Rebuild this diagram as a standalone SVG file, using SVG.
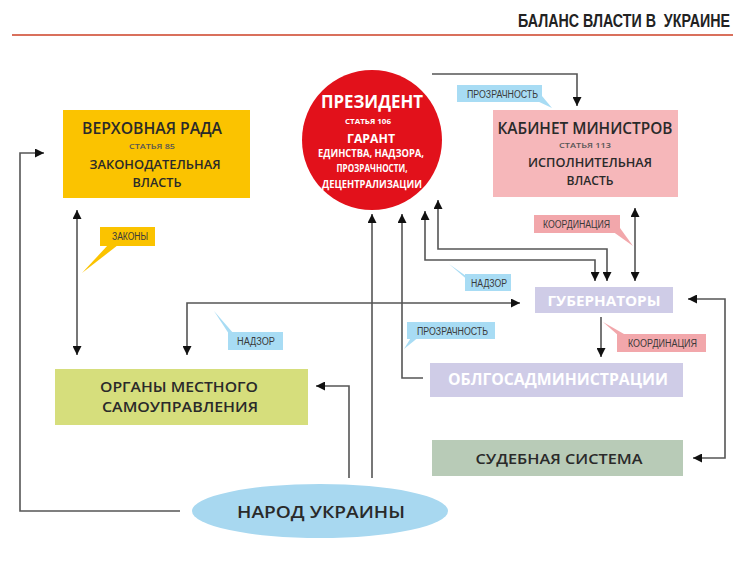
<svg xmlns="http://www.w3.org/2000/svg" width="750" height="564" viewBox="0 0 750 564">
<defs>
<marker id="ah" viewBox="0 0 10 10" refX="10" refY="5" markerWidth="9" markerHeight="9" markerUnits="userSpaceOnUse" orient="auto-start-reverse">
<path d="M0,0 L10,5 L0,10 z" fill="#111"/>
</marker>
<style>
.bg{fill:#ffffff}
.conn{fill:none;stroke:#555;stroke-width:1.6}
.tit{font-family:"Open Sans","Liberation Sans",sans-serif;font-weight:600;fill:#2a2a2a;text-anchor:middle}
.sub{font-family:"Open Sans","Liberation Sans",sans-serif;font-weight:600;fill:#555;text-anchor:middle}
.wt{font-family:"Open Sans","Liberation Sans",sans-serif;font-weight:700;fill:#ffffff;text-anchor:middle}
.lbl{font-family:"Liberation Sans","DejaVu Sans",sans-serif;font-size:10px;fill:#3a3a3a}
.blue{fill:#a8dcf4}
.pink{fill:#f2a7ab}
.yel{fill:#fbc300}
</style>
</defs>
<rect class="bg" x="0" y="0" width="750" height="564"/>

<g id="header">
<text transform="translate(518,27) scale(1,1.38)" x="0" y="0" xml:space="preserve" font-family="Liberation Sans, sans-serif" font-weight="700" font-size="13" fill="#222" textLength="212" lengthAdjust="spacingAndGlyphs">БАЛАНС ВЛАСТИ В  УКРАИНЕ</text>
<line x1="12" y1="35" x2="733" y2="35" stroke="#d9705c" stroke-width="2.2"/>
</g>

<g id="connectors">
<path class="conn" d="M180,511 H20 V153 H44" marker-end="url(#ah)"/>
<path class="conn" d="M77,210 V355" marker-start="url(#ah)" marker-end="url(#ah)"/>
<path class="conn" d="M187,355 V303 H520" marker-start="url(#ah)" marker-end="url(#ah)"/>
<path class="conn" d="M349,478 V386 H316" marker-end="url(#ah)"/>
<path class="conn" d="M372,478 V214" marker-end="url(#ah)"/>
<path class="conn" d="M423,378 H402 V214" marker-end="url(#ah)"/>
<path class="conn" d="M425,211 V260 H595 V281" marker-start="url(#ah)" marker-end="url(#ah)"/>
<path class="conn" d="M438,200 V249 H607 V281" marker-start="url(#ah)" marker-end="url(#ah)"/>
<path class="conn" d="M432,74 H577 V106" marker-end="url(#ah)"/>
<path class="conn" d="M635,208 V281" marker-start="url(#ah)" marker-end="url(#ah)"/>
<path class="conn" d="M601,317 V357" marker-end="url(#ah)"/>
<path class="conn" d="M688,299 H725 V458 H693" marker-start="url(#ah)" marker-end="url(#ah)"/>
</g>

<g id="verkhovna-rada">
<rect x="63" y="110" width="187" height="88" fill="#fbc300"/>
<text class="tit" x="152" y="134" font-size="16" textLength="140" lengthAdjust="spacingAndGlyphs">ВЕРХОВНАЯ РАДА</text>
<text class="sub" x="152" y="149" font-size="7.5" textLength="46" lengthAdjust="spacingAndGlyphs">СТАТЬЯ 85</text>
<text class="tit" font-size="13"><tspan x="155" y="169" textLength="131" lengthAdjust="spacingAndGlyphs">ЗАКОНОДАТЕЛЬНАЯ</tspan><tspan x="157" y="187" textLength="49" lengthAdjust="spacingAndGlyphs">ВЛАСТЬ</tspan></text>
</g>

<g id="president">
<circle cx="372" cy="140" r="70" fill="#e2111b"/>
<text class="wt" x="372" y="108" font-size="18" textLength="102" lengthAdjust="spacingAndGlyphs">ПРЕЗИДЕНТ</text>
<text class="wt" x="368" y="124" font-size="7.5" textLength="46" lengthAdjust="spacingAndGlyphs">СТАТЬЯ 106</text>
<text class="wt" x="371" y="143" font-size="13" textLength="48" lengthAdjust="spacingAndGlyphs">ГАРАНТ</text>
<text class="wt" font-size="10"><tspan x="371" y="157" textLength="106" lengthAdjust="spacingAndGlyphs">ЕДИНСТВА, НАДЗОРА,</tspan><tspan x="372" y="172" textLength="71" lengthAdjust="spacingAndGlyphs">ПРОЗРАЧНОСТИ,</tspan><tspan x="372" y="188" textLength="100" lengthAdjust="spacingAndGlyphs">ДЕЦЕНТРАЛИЗАЦИИ</tspan></text>
</g>

<g id="cabinet">
<rect x="493" y="110" width="185" height="87" fill="#f6b7ba"/>
<text class="tit" x="585" y="134" font-size="16" textLength="175" lengthAdjust="spacingAndGlyphs">КАБИНЕТ МИНИСТРОВ</text>
<text class="sub" x="585" y="148" font-size="7.5" textLength="52" lengthAdjust="spacingAndGlyphs">СТАТЬЯ 113</text>
<text class="tit" font-size="13"><tspan x="590" y="167" textLength="124" lengthAdjust="spacingAndGlyphs">ИСПОЛНИТЕЛЬНАЯ</tspan><tspan x="590" y="185" textLength="47" lengthAdjust="spacingAndGlyphs">ВЛАСТЬ</tspan></text>
</g>

<g id="governors">
<rect x="535" y="287" width="138" height="26" fill="#cfcce7"/>
<text class="wt" x="604" y="306" font-size="14" font-weight="600" textLength="113" lengthAdjust="spacingAndGlyphs">ГУБЕРНАТОРЫ</text>
</g>

<g id="oblgosadministratsii">
<rect x="430" y="363" width="253" height="34" fill="#cfcce7"/>
<text class="wt" x="558" y="385" font-size="16" font-weight="600" textLength="220" lengthAdjust="spacingAndGlyphs">ОБЛГОСАДМИНИСТРАЦИИ</text>
</g>

<g id="judicial">
<rect x="432" y="440" width="251" height="36" fill="#b8cbb7"/>
<text class="tit" x="559" y="464" font-size="15" textLength="167" lengthAdjust="spacingAndGlyphs">СУДЕБНАЯ СИСТЕМА</text>
</g>

<g id="local-government">
<rect x="55" y="369" width="253" height="56" fill="#d6de7c"/>
<text class="tit" font-size="14.5"><tspan x="179" y="392" textLength="158" lengthAdjust="spacingAndGlyphs">ОРГАНЫ МЕСТНОГО</tspan><tspan x="180" y="412" textLength="156" lengthAdjust="spacingAndGlyphs">САМОУПРАВЛЕНИЯ</tspan></text>
</g>

<g id="people">
<ellipse cx="320" cy="511" rx="128" ry="27" fill="#a8d8f0"/>
<text class="tit" x="321" y="518" font-size="17" textLength="168" lengthAdjust="spacingAndGlyphs">НАРОД УКРАИНЫ</text>
</g>

<g id="labels">
<g id="lbl-zakony">
<polygon class="yel" points="108,245 118,245 82,273"/>
<rect class="yel" x="100" y="227" width="55" height="19"/>
<text class="lbl" x="112" y="240" textLength="36" lengthAdjust="spacingAndGlyphs">ЗАКОНЫ</text>
</g>
<g id="lbl-prozrachnost-top">
<polygon class="blue" points="535,100 542,96 552,108"/>
<rect class="blue" x="457" y="85" width="85" height="17"/>
<text class="lbl" x="467" y="98" textLength="71" lengthAdjust="spacingAndGlyphs">ПРОЗРАЧНОСТЬ</text>
</g>
<g id="lbl-koordinatsiya-top">
<polygon class="pink" points="612,231 620,228 633,246"/>
<rect class="pink" x="534" y="215" width="86" height="18"/>
<text class="lbl" x="543" y="228" textLength="67" lengthAdjust="spacingAndGlyphs">КООРДИНАЦИЯ</text>
</g>
<g id="lbl-nadzor-right">
<polygon class="blue" points="466,276 470,282 449,264"/>
<rect class="blue" x="465" y="274" width="46" height="17"/>
<text class="lbl" x="471" y="287" textLength="36" lengthAdjust="spacingAndGlyphs">НАДЗОР</text>
</g>
<g id="lbl-nadzor-left">
<polygon class="blue" points="229,334 234,334 214,311"/>
<rect class="blue" x="228" y="332" width="55" height="18"/>
<text class="lbl" x="237" y="345" textLength="38" lengthAdjust="spacingAndGlyphs">НАДЗОР</text>
</g>
<g id="lbl-prozrachnost-mid">
<polygon class="blue" points="412,336 420,336 404,349"/>
<rect class="blue" x="407" y="322" width="88" height="17"/>
<text class="lbl" x="417" y="335" textLength="71" lengthAdjust="spacingAndGlyphs">ПРОЗРАЧНОСТЬ</text>
</g>
<g id="lbl-koordinatsiya-bottom">
<polygon class="pink" points="619,336 624,334 603,322"/>
<rect class="pink" x="617" y="334" width="89" height="18"/>
<text class="lbl" x="628" y="347" textLength="69" lengthAdjust="spacingAndGlyphs">КООРДИНАЦИЯ</text>
</g>
</g>
</svg>
